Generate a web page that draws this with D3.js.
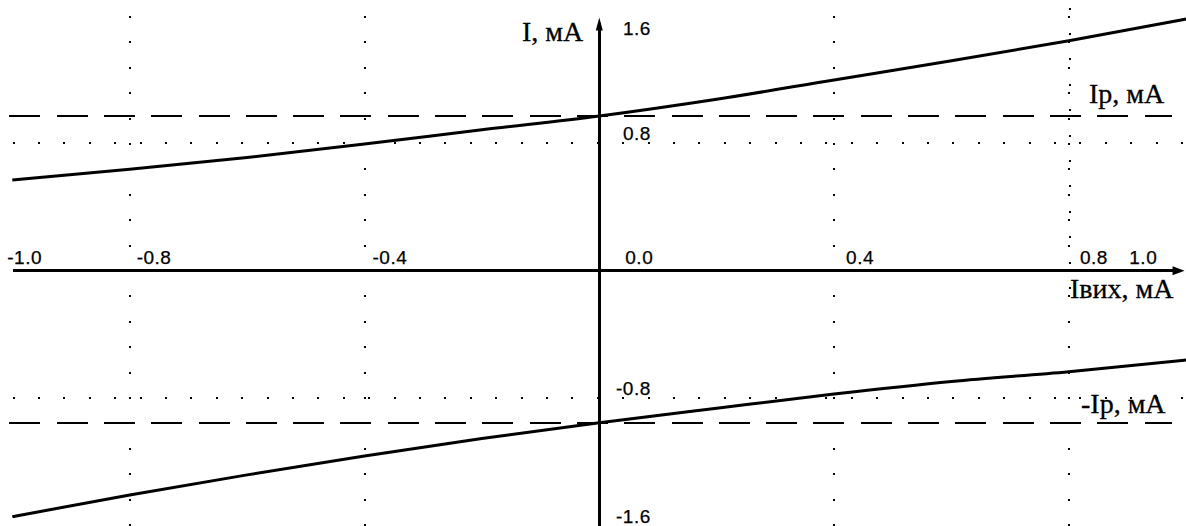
<!DOCTYPE html>
<html>
<head>
<meta charset="utf-8">
<script src="https://cdn.jsdelivr.net/npm/d3@7/dist/d3.min.js"></script>
</head>
<body style="margin:0;padding:0;background:#fff">
<script>
// ---- data ----
const xTickValues = [-1.0, -0.8, -0.4, 0.0, 0.4, 0.8, 1.0];
const xTickLabels = ["-1.0", "-0.8", "-0.4", "0.0", "0.4", "0.8", "1.0"];
const yTickValues = [1.6, 0.8, -0.8, -1.6];
const yTickLabels = ["1.6", "0.8", "-0.8", "-1.6"];
const gridX = [-0.8, -0.4, 0.4, 0.8];
const gridY = [0.8, -0.8];
const currentOut = [-1.0, -0.8, -0.6, -0.4, -0.2, 0.0, 0.2, 0.4, 0.6, 0.8, 1.0];
const upperCurve = [0.569, 0.636, 0.710, 0.794, 0.884, 0.970, 1.075, 1.196, 1.316, 1.442, 1.578];
const lowerCurve = [-1.542, -1.406, -1.280, -1.162, -1.052, -0.953, -0.862, -0.773, -0.694, -0.633, -0.560];
const limitLevels = [0.970, -0.957];
const limitLabels = ["Ip, мА", "-Ip, мА"];
const xAxisTitle = "Iвих, мА";
const yAxisTitle = "I, мА";

// ---- layout ----
const W = 1186, H = 526;
const x = d3.scaleLinear().domain([-1, 1]).range([12.3, 1186.3]);
const y = d3.scaleLinear().domain([-1.6, 1.6]).range([525.9, 15.5]);
const xLabelDx = { "-1.0": -5, "-0.8": 7, "-0.4": 8, "0.0": 26, "0.4": 12, "0.8": 11, "1.0": -57 };
const SANS = "Liberation Sans, Arial, sans-serif";
const SERIF = "Liberation Serif, Times New Roman, serif";

const svg = d3.select("body").append("svg")
  .attr("width", W).attr("height", H).style("display", "block");

// dotted grid
const dot = "2,23.4";
svg.append("g").attr("shape-rendering", "crispEdges").selectAll("line").data(gridX).join("line")
  .attr("x1", d => x(d)).attr("x2", d => x(d))
  .attr("y1", 16).attr("y2", H)
  .attr("stroke", "#000").attr("stroke-width", 2).attr("stroke-dasharray", dot);
svg.append("line").attr("shape-rendering", "crispEdges")
  .attr("x1", x(0.8) + 1).attr("x2", x(0.8) + 1)
  .attr("y1", 7.5).attr("y2", 305)
  .attr("stroke", "#000").attr("stroke-width", 2).attr("stroke-dasharray", dot);
svg.append("g").attr("shape-rendering", "crispEdges").selectAll("line").data(gridY).join("line")
  .attr("y1", d => y(d)).attr("y2", d => y(d))
  .attr("x1", 12.5).attr("x2", W)
  .attr("stroke", "#000").attr("stroke-width", 2).attr("stroke-dasharray", dot);

// dashed limit lines
svg.append("g").attr("shape-rendering", "crispEdges").selectAll("line").data(limitLevels).join("line")
  .attr("y1", d => y(d)).attr("y2", d => y(d))
  .attr("x1", x(-1.005)).attr("x2", x(0.975))
  .attr("stroke", "#000").attr("stroke-width", 2).attr("stroke-dasharray", "31,16.3");

// axes
const x0 = x(0), y0 = y(0);
svg.append("line").attr("shape-rendering", "crispEdges")
  .attr("x1", x(-0.998)).attr("x2", x(0.99)).attr("y1", y0).attr("y2", y0)
  .attr("stroke", "#000").attr("stroke-width", 2.5);
svg.append("line").attr("shape-rendering", "crispEdges")
  .attr("x1", x0).attr("x2", x0).attr("y1", y(1.55)).attr("y2", H)
  .attr("stroke", "#000").attr("stroke-width", 2.5);
const xEnd = x(0.997);
svg.append("path").attr("d", `M${xEnd},${y0} L${xEnd - 12},${y0 - 4.5} L${xEnd - 12},${y0 + 4.5} Z`).attr("fill", "#000");
const yEnd = y(1.588);
svg.append("path").attr("d", `M${x0},${yEnd} L${x0 - 3.5},${yEnd + 13} L${x0 + 3.5},${yEnd + 13} Z`).attr("fill", "#000");

// curves
const line = d3.line().x((d, i) => x(currentOut[i])).y(d => y(d)).curve(d3.curveMonotoneX);
[upperCurve, lowerCurve].forEach(s => {
  svg.append("path").attr("d", line(s)).attr("fill", "none")
    .attr("stroke", "#000").attr("stroke-width", 3).attr("stroke-linejoin", "round");
});

// tick labels
function tickStyle(sel) {
  sel.attr("font-family", SANS).attr("font-size", 19).attr("letter-spacing", 0.5)
    .attr("fill", "#000").attr("stroke", "#000").attr("stroke-width", 0.25);
}
svg.append("g").selectAll("text").data(xTickValues).join("text")
  .call(tickStyle)
  .attr("x", (d, i) => x(d) + xLabelDx[xTickLabels[i]])
  .attr("y", y0 - 6.5)
  .text((d, i) => xTickLabels[i]);
svg.append("g").selectAll("text").data(yTickValues).join("text")
  .call(tickStyle)
  .attr("text-anchor", "end")
  .attr("x", x0 + 51.5)
  .attr("y", d => Math.max(y(d) - 3, 35))
  .text((d, i) => yTickLabels[i]);

// titles
function titleStyle(sel) {
  sel.attr("font-family", SERIF).attr("font-size", 28)
    .attr("fill", "#000").attr("stroke", "#000").attr("stroke-width", 0.3);
}
svg.append("text").call(titleStyle).attr("text-anchor", "end")
  .attr("x", x0 - 16).attr("y", 41).text(yAxisTitle);
svg.append("text").call(titleStyle)
  .attr("x", 1070).attr("y", y0 + 27).text(xAxisTitle);
svg.append("text").call(titleStyle)
  .attr("x", 1089).attr("y", y(limitLevels[0]) - 13).text(limitLabels[0]);
svg.append("text").call(titleStyle)
  .attr("x", 1081).attr("y", y(limitLevels[1]) - 10).text(limitLabels[1]);
</script>
</body>
</html>
